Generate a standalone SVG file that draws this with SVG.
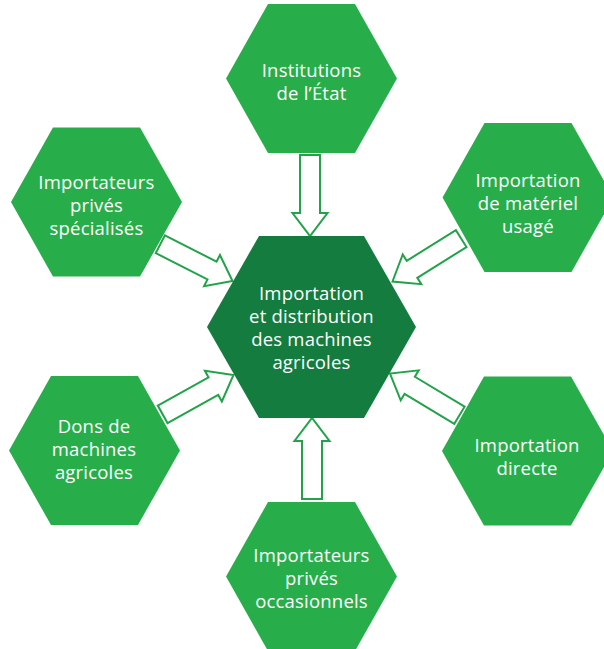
<svg xmlns="http://www.w3.org/2000/svg" xmlns:xlink="http://www.w3.org/1999/xlink" width="604" height="649" viewBox="0 0 604 649">
  <style>
    .hex { fill: #27ae4a; }
    .hexc { fill: #137c3e; }
    .lbl { fill: #ffffff; font-family: "Open Sans", "Noto Sans", sans-serif; font-size: 18.5px; letter-spacing: 0.2px; text-anchor: middle; }
    .arr { fill: #ffffff; stroke: #22a349; stroke-width: 2; stroke-linejoin: miter; }
  </style>
  <defs>
    <polygon id="arrow" class="arr" points="-81,-10 -23,-10 -23,-17.5 0,0 -23,17.5 -23,10 -81,10"/>
  </defs>
  <rect width="604" height="649" fill="#ffffff"/>

  <g id="connectors">
    <use xlink:href="#arrow" href="#arrow" transform="translate(310,236) rotate(90)"/>
    <use xlink:href="#arrow" href="#arrow" transform="translate(312,418) rotate(-90)"/>
    <use xlink:href="#arrow" href="#arrow" transform="translate(232.5,281) rotate(27)"/>
    <use xlink:href="#arrow" href="#arrow" transform="translate(233.5,375) rotate(-29)"/>
    <use xlink:href="#arrow" href="#arrow" transform="translate(392.5,281.5) rotate(148)"/>
    <use xlink:href="#arrow" href="#arrow" transform="translate(390,373.5) rotate(211)"/>
  </g>

  <g id="center">
    <polygon class="hexc" points="207,327 259,236 364,236 416,327 364,418 259,418"/>
    <text class="lbl" x="311.5" y="300">Importation</text>
    <text class="lbl" x="311.5" y="323">et distribution</text>
    <text class="lbl" x="311.5" y="346">des machines</text>
    <text class="lbl" x="311.5" y="369">agricoles</text>
  </g>

  <g id="institutions">
    <polygon class="hex" points="226,78.5 268,4 355,4 397,78.5 355,153 268,153"/>
    <text class="lbl" x="311.5" y="77">Institutions</text>
    <text class="lbl" x="311.5" y="100">de l’État</text>
  </g>

  <g id="importateurs-specialises">
    <polygon class="hex" points="11,202 53,127.5 140,127.5 182,202 140,276.5 53,276.5"/>
    <text class="lbl" x="96.5" y="189">Importateurs</text>
    <text class="lbl" x="96.5" y="212">privés</text>
    <text class="lbl" x="96.5" y="235">spécialisés</text>
  </g>

  <g id="materiel-usage">
    <polygon class="hex" points="442.5,197.5 484.5,123 571.5,123 613.5,197.5 571.5,272 484.5,272"/>
    <text class="lbl" x="528" y="187">Importation</text>
    <text class="lbl" x="528" y="210">de matériel</text>
    <text class="lbl" x="528" y="233">usagé</text>
  </g>

  <g id="importation-directe">
    <polygon class="hex" points="442,451 484,376.5 571,376.5 613,451 571,525.5 484,525.5"/>
    <text class="lbl" x="527" y="451.5">Importation</text>
    <text class="lbl" x="527" y="474.5">directe</text>
  </g>

  <g id="dons">
    <polygon class="hex" points="9,450.5 51,376 138,376 180,450.5 138,525 51,525"/>
    <text class="lbl" x="94" y="433">Dons de</text>
    <text class="lbl" x="94" y="456">machines</text>
    <text class="lbl" x="94" y="479">agricoles</text>
  </g>

  <g id="importateurs-occasionnels">
    <polygon class="hex" points="226,576.5 268,502 355,502 397,576.5 355,651 268,651"/>
    <text class="lbl" x="311.5" y="562">Importateurs</text>
    <text class="lbl" x="311.5" y="585">privés</text>
    <text class="lbl" x="311.5" y="608">occasionnels</text>
  </g>
</svg>
